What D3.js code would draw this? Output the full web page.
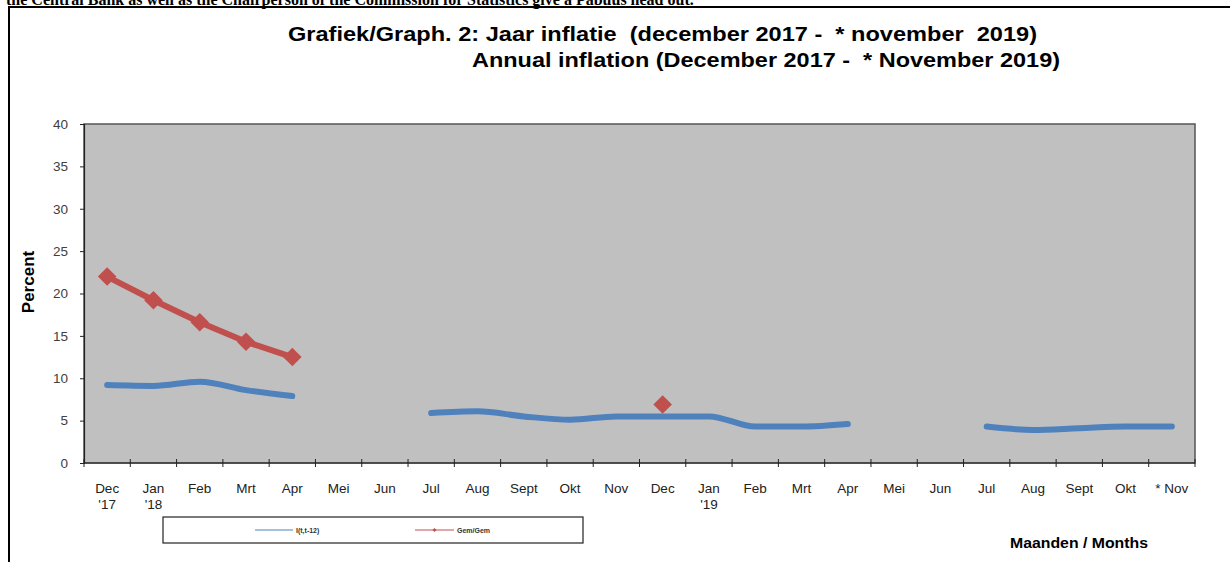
<!DOCTYPE html>
<html>
<head>
<meta charset="utf-8">
<script src="https://cdn.jsdelivr.net/npm/d3@7"></script>
<style>
  body { margin: 0; background: #fff; }
  svg { display: block; }
</style>
</head>
<body>
<div id="chart"></div>
<script>
// month labels (line 1 / line 2)
var months = ["Dec", "Jan", "Feb", "Mrt", "Apr", "Mei", "Jun", "Jul", "Aug", "Sept", "Okt", "Nov",
              "Dec", "Jan", "Feb", "Mrt", "Apr", "Mei", "Jun", "Jul", "Aug", "Sept", "Okt", "* Nov"];
var years = ["'17", "'18", "", "", "", "", "", "", "", "", "", "",
             "", "'19", "", "", "", "", "", "", "", "", "", ""];

// I(t,t-12) - yearly inflation
var inflation = [9.2, 9.1, 9.6, 8.6, 7.9, null, null, 5.9, 6.1, 5.5, 5.1, 5.5,
                 5.5, 5.5, 4.3, 4.3, 4.6, null, null, 4.3, 3.9, 4.1, 4.3, 4.3];
// Gem/Gem - average over average
var gemGem = [22.0, 19.2, 16.6, 14.3, 12.5, null, null, null, null, null, null, null,
              6.9, null, null, null, null, null, null, null, null, null, null, null];

var yTicks = [0, 5, 10, 15, 20, 25, 30, 35, 40];

var svgWidth = 1230;
var svgHeight = 562;

var plot = { left: 84, top: 124, right: 1195, bottom: 463 };
var font = "Liberation Sans, Arial, sans-serif";

var svg = d3.select("#chart")
    .append("svg")
    .attr("width", svgWidth)
    .attr("height", svgHeight);

// clipped body text from the page above the chart
svg.append("text")
    .attr("x", 6)
    .attr("y", 5)
    .style("font-family", "Liberation Serif, serif")
    .style("font-size", "16px")
    .style("font-weight", "bold")
    .text("the Central Bank as well as the Chairperson of the Commission for Statistics give a Pabuus head out.");

// outer frame
svg.append("path")
    .attr("d", "M9,562 V7 H1232")
    .attr("fill", "none")
    .attr("stroke", "#000")
    .attr("stroke-width", 2);

// titles
svg.append("text")
    .attr("x", 288)
    .attr("y", 41)
    .style("font-family", font)
    .style("font-size", "21px")
    .style("font-weight", "bold")
    .attr("xml:space", "preserve")
    .attr("textLength", 749)
    .attr("lengthAdjust", "spacingAndGlyphs")
    .text("Grafiek/Graph. 2: Jaar inflatie  (december 2017 -  * november  2019)");

svg.append("text")
    .attr("x", 472)
    .attr("y", 67)
    .style("font-family", font)
    .style("font-size", "21px")
    .style("font-weight", "bold")
    .attr("xml:space", "preserve")
    .attr("textLength", 588)
    .attr("lengthAdjust", "spacingAndGlyphs")
    .text("Annual inflation (December 2017 -  * November 2019)");

var xScale = d3.scaleBand()
    .domain(d3.range(months.length))
    .range([plot.left, plot.right])
    .paddingInner(0)
    .paddingOuter(0);

var yScale = d3.scaleLinear()
    .domain([0, 40])
    .range([plot.bottom, plot.top]);

// plot area
svg.append("rect")
    .attr("x", plot.left)
    .attr("y", plot.top)
    .attr("width", plot.right - plot.left)
    .attr("height", plot.bottom - plot.top)
    .attr("fill", "#c0c0c0")
    .attr("stroke", "#555")
    .attr("stroke-width", 1.5);

// y axis
var leftAxis = d3.axisLeft(yScale)
    .tickValues(yTicks)
    .tickSize(4)
    .tickPadding(12);

var yAxis = svg.append("g")
    .attr("transform", "translate(" + plot.left + ",0)")
    .call(leftAxis);
yAxis.select(".domain").attr("stroke", "#222").attr("stroke-width", 1.2);
yAxis.selectAll(".tick line").attr("stroke", "#222");
yAxis.selectAll("text")
    .style("font-family", font)
    .style("font-size", "13.5px")
    .attr("fill", "#404040");

// x axis line + crossing ticks at band edges
var xAxisG = svg.append("g");
xAxisG.append("line")
    .attr("x1", plot.left)
    .attr("x2", plot.right)
    .attr("y1", plot.bottom)
    .attr("y2", plot.bottom)
    .attr("stroke", "#222")
    .attr("stroke-width", 1.2);

var edges = d3.range(months.length).map(function(i) { return xScale(i); });
edges.push(plot.right);
xAxisG.selectAll(".xtick")
    .data(edges)
    .enter()
    .append("line")
    .attr("class", "xtick")
    .attr("x1", function(d) { return d; })
    .attr("x2", function(d) { return d; })
    .attr("y1", plot.bottom - 4)
    .attr("y2", plot.bottom + 4)
    .attr("stroke", "#222");

// x labels
var labelG = xAxisG.selectAll(".xlabel")
    .data(months)
    .enter()
    .append("text")
    .attr("class", "xlabel")
    .attr("text-anchor", "middle")
    .attr("x", function(d, i) { return xScale(i) + xScale.bandwidth() / 2; })
    .attr("y", 493)
    .style("font-family", font)
    .style("font-size", "13.5px")
    .attr("fill", "#222");
labelG.append("tspan").text(function(d) { return d; });
labelG.append("tspan")
    .attr("x", function(d, i) { return xScale(i) + xScale.bandwidth() / 2; })
    .attr("dy", 16)
    .text(function(d, i) { return years[i]; });

// y axis title
svg.append("text")
    .attr("transform", "translate(34,282) rotate(-90)")
    .attr("text-anchor", "middle")
    .style("font-family", font)
    .style("font-size", "17px")
    .style("font-weight", "bold")
    .text("Percent");

// x axis title
svg.append("text")
    .attr("x", 1148)
    .attr("y", 548)
    .attr("text-anchor", "end")
    .style("font-family", font)
    .style("font-size", "15.5px")
    .style("font-weight", "bold")
    .attr("textLength", 138)
    .attr("lengthAdjust", "spacingAndGlyphs")
    .text("Maanden / Months");

var blue = "#4f81bd";
var red = "#c0504d";

var cx = function(i) { return xScale(i) + xScale.bandwidth() / 2; };

var lineGen = d3.line()
    .defined(function(d) { return d != null; })
    .x(function(d, i) { return cx(i); })
    .y(function(d) { return yScale(d); })
    .curve(d3.curveMonotoneX);

// I(t,t-12) line
svg.append("path")
    .datum(inflation)
    .attr("fill", "none")
    .attr("stroke", blue)
    .attr("stroke-width", 6)
    .attr("stroke-linecap", "round")
    .attr("stroke-linejoin", "round")
    .attr("d", lineGen);

// Gem/Gem line
svg.append("path")
    .datum(gemGem)
    .attr("fill", "none")
    .attr("stroke", red)
    .attr("stroke-width", 6)
    .attr("stroke-linejoin", "round")
    .attr("d", lineGen.curve(d3.curveLinear));

var diamond = d3.symbol().type(d3.symbolDiamond2).size(220);
svg.selectAll(".gem")
    .data(gemGem.map(function(v, i) { return { v: v, i: i }; }).filter(function(d) { return d.v != null; }))
    .enter()
    .append("path")
    .attr("class", "gem")
    .attr("d", diamond)
    .attr("transform", function(d) { return "translate(" + cx(d.i) + "," + yScale(d.v) + ")"; })
    .attr("fill", red);

// legend
var legend = svg.append("g");
legend.append("rect")
    .attr("x", 163)
    .attr("y", 517)
    .attr("width", 420)
    .attr("height", 26)
    .attr("fill", "#fff")
    .attr("stroke", "#222")
    .attr("stroke-width", 1.2);

legend.append("line")
    .attr("x1", 255).attr("x2", 293)
    .attr("y1", 530).attr("y2", 530)
    .attr("stroke", blue)
    .attr("stroke-width", 1.2);
legend.append("text")
    .attr("x", 296)
    .attr("y", 532.5)
    .style("font-family", font)
    .style("font-size", "7px")
    .style("font-weight", "bold")
    .attr("fill", "#333")
    .text("I(t,t-12)");

legend.append("line")
    .attr("x1", 415).attr("x2", 454)
    .attr("y1", 530).attr("y2", 530)
    .attr("stroke", red)
    .attr("stroke-width", 1.2);
legend.append("path")
    .attr("d", d3.symbol().type(d3.symbolDiamond2).size(10))
    .attr("transform", "translate(434.5,530)")
    .attr("fill", red);
legend.append("text")
    .attr("x", 457)
    .attr("y", 532.5)
    .style("font-family", font)
    .style("font-size", "7px")
    .style("font-weight", "bold")
    .attr("fill", "#333")
    .text("Gem/Gem");
</script>
</body>
</html>
